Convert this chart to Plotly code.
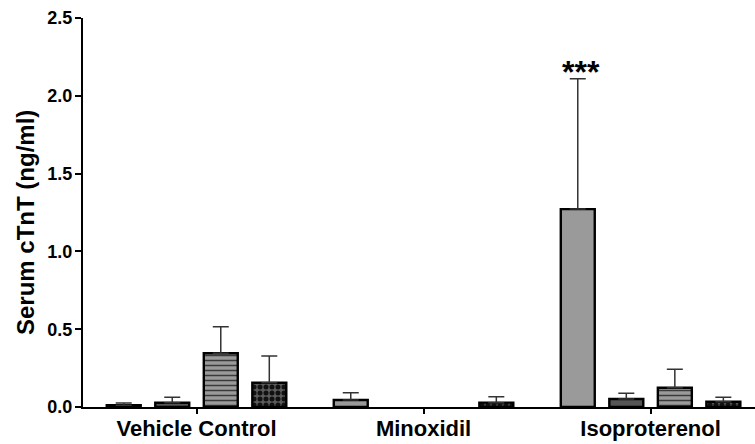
import plotly.graph_objects as go

# Serum cardiac troponin T by treatment, four sub-groups per treatment
categories = ["Vehicle Control", "Minoxidil", "Isoproterenol"]

group1_mean = [0.012, 0.045, 1.272]
group1_sem = [0.013, 0.047, 0.838]

group2_mean = [0.027, None, 0.051]
group2_sem = [0.035, None, 0.037]

group3_mean = [0.345, None, 0.124]
group3_sem = [0.170, None, 0.118]

group4_mean = [0.156, 0.028, 0.034]
group4_sem = [0.172, 0.038, 0.028]

y_ticks = [0.0, 0.5, 1.0, 1.5, 2.0, 2.5]
y_title = "Serum cTnT (ng/ml)"
significance = "***"

FONT = "Liberation Sans, Arial, sans-serif"

styles = [
    dict(color="#9a9a9a", pattern=None),
    dict(color="#555555", pattern=None),
    dict(color="#9a9a9a", pattern=dict(shape="-", fgcolor="#3a3a3a", bgcolor="#9a9a9a",
                                       size=5, solidity=0.3, fillmode="replace")),
    dict(color="#3a3a3a", pattern=dict(shape=".", fgcolor="#111111", bgcolor="#5c5c5c",
                                       size=6, solidity=0.55, fillmode="replace")),
]

series = [
    ("Group 1", group1_mean, group1_sem),
    ("Group 2", group2_mean, group2_sem),
    ("Group 3", group3_mean, group3_sem),
    ("Group 4", group4_mean, group4_sem),
]

fig = go.Figure()
for (name, means, sems), st in zip(series, styles):
    marker = dict(color=st["color"], line=dict(color="black", width=2.4))
    if st["pattern"] is not None:
        marker["pattern"] = st["pattern"]
    fig.add_trace(go.Bar(
        name=name,
        x=categories,
        y=means,
        marker=marker,
        error_y=dict(
            type="data",
            array=sems,
            arrayminus=[0 if s is not None else None for s in sems],
            symmetric=False,
            color="#333333",
            thickness=1.5,
            width=8,
        ),
        showlegend=False,
    ))

# significance marker above the isoproterenol group 1 bar
fig.add_annotation(
    x=categories[2], y=group1_mean[2] + group1_sem[2],
    xref="x", yref="y",
    xshift=-69.5, yshift=-13,
    text=f"<b>{significance}</b>",
    showarrow=False,
    yanchor="bottom",
    font=dict(family=FONT, size=32, color="black"),
)

# vertical y-axis title, set slightly below the plot's mid-height
fig.add_annotation(
    x=-0.0863, y=0.473,
    xref="paper", yref="paper",
    text=f"<b>{y_title}</b>",
    textangle=-90,
    showarrow=False,
    xanchor="center", yanchor="middle",
    font=dict(family=FONT, size=24, color="black"),
)

fig.update_layout(
    width=755, height=444,
    margin=dict(l=83, r=0, t=18, b=37),
    paper_bgcolor="white",
    plot_bgcolor="white",
    barmode="group",
    bargap=0.145,
    bargroupgap=0.3,
    font=dict(family=FONT, color="black"),
)

fig.update_xaxes(
    range=[-0.5, 2.46],
    showline=True, linecolor="black", linewidth=2,
    ticks="outside", ticklen=5, tickwidth=2, tickcolor="black",
    ticklabelstandoff=-4,
    tickfont=dict(family=FONT, size=22, weight="bold", color="black"),
    showgrid=False, zeroline=False,
)

fig.update_yaxes(
    range=[0, 2.5],
    tickvals=y_ticks,
    tickformat=".1f",
    showline=True, linecolor="black", linewidth=2,
    ticks="outside", ticklen=6, tickwidth=2, tickcolor="black",
    ticklabelstandoff=-1,
    tickfont=dict(family=FONT, size=18, weight="bold", color="black"),
    showgrid=False, zeroline=False,
)

fig.write_html("out.html")
